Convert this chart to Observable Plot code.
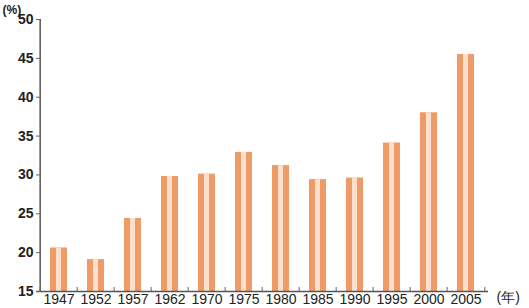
<!DOCTYPE html>
<html>
<head>
<meta charset="utf-8">
<script src="https://cdn.jsdelivr.net/npm/d3@7"></script>
<script src="https://cdn.jsdelivr.net/npm/@observablehq/plot@0.6"></script>
<style>
  html, body { margin: 0; padding: 0; background: #fff; }
  #chart { width: 529px; height: 308px; overflow: hidden; }
</style>
</head>
<body>
<div id="chart"></div>
<script>
const years = ["1947","1952","1957","1962","1970","1975","1980","1985","1990","1995","2000","2005"];
const values = [20.6, 19.1, 24.4, 29.8, 30.1, 32.9, 31.2, 29.4, 29.6, 34.1, 38.0, 45.5];
const yTicks = [15, 20, 25, 30, 35, 40, 45, 50];
const yUnit = "(%)";
const xUnit = "(年)";

const data = years.map((y, i) => ({year: y, value: values[i]}));

const W = 529, H = 308;
const mL = 36, mR = 41, mT = 19, mB = 17;
const innerW = W - mL - mR, innerH = H - mT - mB;
const bw = innerW / years.length;

const chart = Plot.plot({
  width: W,
  height: H,
  marginLeft: mL,
  marginRight: mR,
  marginTop: mT,
  marginBottom: mB,
  style: {fontFamily: "'Liberation Sans', Arial, sans-serif", color: "#222", background: "#fff", overflow: "visible"},
  x: {domain: years, padding: 0, label: null},
  y: {domain: [15, 50], label: null},
  marks: [
    Plot.barY(data, {x: "year", y1: 15, y2: "value", fill: "#ef9b68", insetLeft: 10, insetRight: 10}),
    Plot.barY(data, {x: "year", y1: 15, y2: "value", fill: "#fbe0cd", insetLeft: 16, insetRight: 16}),
    Plot.axisY(yTicks, {tickSize: 0, tickPadding: 3, fontSize: 14, fontWeight: "bold", label: null}),
    Plot.axisX(years, {tickSize: 0, tickPadding: 3, fontSize: 14, label: null}),
    Plot.ruleY([15], {stroke: "#555", strokeWidth: 1.5}),
    Plot.ruleX(years.slice(0, 1), {x: d => d, dx: -bw / 2, stroke: "#555", strokeWidth: 1.5}),
    Plot.tickY(yTicks, {y: d => d, stroke: "#666", insetRight: innerW - 4}),
    Plot.tickX(years, {x: d => d, dx: -bw / 2, stroke: "#666", insetTop: innerH - 4}),
    Plot.tickX(years.slice(-1), {x: d => d, dx: bw / 2, stroke: "#666", insetTop: innerH - 4}),
    Plot.text([yUnit], {frameAnchor: "top-left", dx: -34, dy: -14, textAnchor: "start", fontSize: 12, fontWeight: "bold", fill: "#222"}),
    Plot.text([xUnit], {frameAnchor: "bottom-right", dx: 8, dy: 10, textAnchor: "start", fontSize: 14, fill: "#222"})
  ]
});
document.getElementById("chart").appendChild(chart);
</script>
</body>
</html>
